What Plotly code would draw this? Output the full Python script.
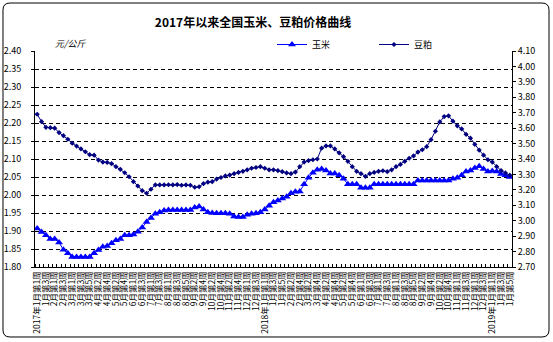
import plotly.graph_objects as go

# ---------------- data ----------------
TITLE = "2017年以来全国玉米、豆粕价格曲线"
UNIT = "元/公斤"
SERIES_NAMES = ["玉米", "豆粕"]

TICK_LABELS = [
    "2017年1月第1周", "1月第3周", "2月第1周", "2月第3周", "3月第1周", "3月第3周", "3月第5周",
    "4月第2周", "4月第4周", "5月第2周", "5月第4周", "6月第1周", "6月第3周", "7月第1周",
    "7月第3周", "8月第1周", "8月第3周", "8月第5周", "9月第2周", "9月第4周", "10月第2周",
    "10月第4周", "11月第2周", "11月第4周", "12月第1周", "12月第3周",
    "2018年1月第1周", "1月第3周", "1月第5周", "2月第2周", "2月第4周", "3月第2周", "3月第4周",
    "4月第2周", "4月第4周", "5月第2周", "5月第4周", "6月第1周", "6月第3周", "7月第1周",
    "7月第3周", "8月第1周", "8月第3周", "8月第5周", "9月第2周", "9月第4周", "10月第2周",
    "10月第4周", "11月第1周", "11月第3周", "12月第1周", "12月第3周",
    "2019年1月第1周", "1月第3周", "1月第5周",
]

CORN = [
    1.907, 1.897, 1.888, 1.878, 1.878, 1.868, 1.848, 1.838, 1.828, 1.828,
    1.828, 1.828, 1.828, 1.838, 1.847, 1.856, 1.858, 1.866, 1.874, 1.878,
    1.888, 1.888, 1.890, 1.898, 1.910, 1.925, 1.936, 1.948, 1.952, 1.957,
    1.958, 1.958, 1.958, 1.958, 1.958, 1.958, 1.965, 1.968, 1.960, 1.952,
    1.950, 1.949, 1.949, 1.949, 1.948, 1.940, 1.939, 1.939, 1.945, 1.948,
    1.949, 1.952, 1.960, 1.970, 1.980, 1.985, 1.990, 1.995, 2.005, 2.009,
    2.010, 2.030, 2.048, 2.062, 2.070, 2.072, 2.068, 2.060, 2.060, 2.055,
    2.045, 2.030, 2.030, 2.030, 2.020, 2.020, 2.020, 2.030, 2.030, 2.030,
    2.030, 2.030, 2.030, 2.030, 2.030, 2.030, 2.030, 2.040, 2.040, 2.040,
    2.040, 2.040, 2.040, 2.040, 2.040, 2.045, 2.048, 2.055, 2.065, 2.068,
    2.075, 2.080, 2.072, 2.065, 2.067, 2.065, 2.058, 2.055, 2.050,
]

SOY = [
    3.690, 3.642, 3.605, 3.603, 3.600, 3.571, 3.551, 3.528, 3.502, 3.484,
    3.465, 3.447, 3.428, 3.425, 3.393, 3.380, 3.378, 3.370, 3.350, 3.333,
    3.311, 3.285, 3.253, 3.225, 3.195, 3.178, 3.204, 3.232, 3.232, 3.232,
    3.233, 3.232, 3.234, 3.230, 3.232, 3.230, 3.217, 3.220, 3.240, 3.250,
    3.253, 3.270, 3.280, 3.290, 3.296, 3.305, 3.313, 3.320, 3.330, 3.340,
    3.345, 3.350, 3.340, 3.330, 3.330, 3.325, 3.318, 3.310, 3.305, 3.315,
    3.350, 3.380, 3.390, 3.395, 3.400, 3.470, 3.485, 3.485, 3.465, 3.440,
    3.415, 3.385, 3.350, 3.320, 3.305, 3.288, 3.305, 3.313, 3.320, 3.324,
    3.318, 3.330, 3.350, 3.365, 3.385, 3.405, 3.420, 3.445, 3.460, 3.480,
    3.525, 3.580, 3.640, 3.675, 3.680, 3.645, 3.615, 3.595, 3.560, 3.535,
    3.495, 3.458, 3.425, 3.395, 3.380, 3.350, 3.325, 3.310, 3.295,
]

LEFT_RANGE = [1.80, 2.40]
RIGHT_RANGE = [2.70, 4.10]

# ---------------- figure ----------------
W, H = 553, 342
ML, MR, MT, MB = 35, 41, 51, 75
PW, PH = W - ML - MR, H - MT - MB

FONT = "Noto Sans CJK SC, DejaVu Sans, sans-serif"
x = list(range(len(CORN)))

fig = go.Figure()
fig.add_trace(go.Scatter(
    x=x, y=CORN, name=SERIES_NAMES[0], mode="lines+markers",
    line=dict(color="#0000FF", width=1),
    marker=dict(symbol="triangle-up", size=7, color="#0000FF"),
    yaxis="y",
))
fig.add_trace(go.Scatter(
    x=x, y=SOY, name=SERIES_NAMES[1], mode="lines+markers",
    line=dict(color="#000080", width=1),
    marker=dict(symbol="diamond", size=4, color="#000080"),
    yaxis="y2",
))


def px2paper(px, py):
    return (px - ML) / PW, (H - MB - py) / PH


# rounded outer chart border
x0, y0, x1, y1, r = 3, 3, 549, 337, 7
def P(px, py):
    a, b = px2paper(px, py)
    return f"{a:.5f},{b:.5f}"
path = (f"M {P(x0 + r, y0)} L {P(x1 - r, y0)} Q {P(x1, y0)} {P(x1, y0 + r)} "
        f"L {P(x1, y1 - r)} Q {P(x1, y1)} {P(x1 - r, y1)} "
        f"L {P(x0 + r, y1)} Q {P(x0, y1)} {P(x0, y1 - r)} "
        f"L {P(x0, y0 + r)} Q {P(x0, y0)} {P(x0 + r, y0)} Z")

fig.update_layout(
    width=W, height=H,
    margin=dict(l=ML, r=MR, t=MT, b=MB, pad=0, autoexpand=False),
    paper_bgcolor="white", plot_bgcolor="white",
    font=dict(family=FONT, size=9, color="black"),
    title=dict(text=f"<b>{TITLE}</b>", x=253 / W, xref="container", xanchor="center",
               y=1 - 23 / H, yref="container", yanchor="middle",
               font=dict(size=12, color="black", family=FONT)),
    showlegend=True,
    legend=dict(orientation="h", xref="container", yref="container",
                x=272 / W, y=1 - 30 / H, xanchor="left", yanchor="top",
                font=dict(size=9), itemwidth=30, entrywidth=57,
                entrywidthmode="pixels", bgcolor="rgba(0,0,0,0)",
                tracegroupgap=0),
    xaxis=dict(
        range=[-0.5, len(CORN) - 0.5],
        tickmode="array", tickvals=x[::2], ticktext=TICK_LABELS,
        tickangle=-90, ticks="", tickfont=dict(size=8.5),
        showline=True, linecolor="black", linewidth=1,
        showgrid=False, zeroline=False,
        minor=dict(tickmode="array", tickvals=[i - 0.5 for i in range(len(CORN) + 1)],
                   ticks="inside", ticklen=3, tickcolor="black", showgrid=False),
    ),
    yaxis=dict(
        range=LEFT_RANGE, dtick=0.05, tick0=1.80, tickformat=".2f",
        showline=True, linecolor="black", linewidth=1,
        ticks="outside", ticklen=3, tickcolor="black",
        showgrid=True, gridcolor="black", gridwidth=1, griddash="4px,3px",
        zeroline=False, tickfont=dict(size=9), ticklabelstandoff=8,
    ),
    yaxis2=dict(
        range=RIGHT_RANGE, dtick=0.1, tick0=2.70, tickformat=".2f",
        overlaying="y", side="right",
        showline=True, linecolor="black", linewidth=1,
        ticks="outside", ticklen=3, tickcolor="black",
        showgrid=False, zeroline=False, tickfont=dict(size=9),
    ),
    shapes=[dict(type="path", path=path, xref="paper", yref="paper",
                 line=dict(color="black", width=1), fillcolor="rgba(0,0,0,0)", layer="below")],
    annotations=[dict(text=f"<i>{UNIT}</i>", xref="paper", yref="paper",
                      x=px2paper(53, 0)[0], y=px2paper(0, 43)[1],
                      xanchor="left", yanchor="middle", showarrow=False,
                      font=dict(size=9))],
)

fig.write_html("out.html")
